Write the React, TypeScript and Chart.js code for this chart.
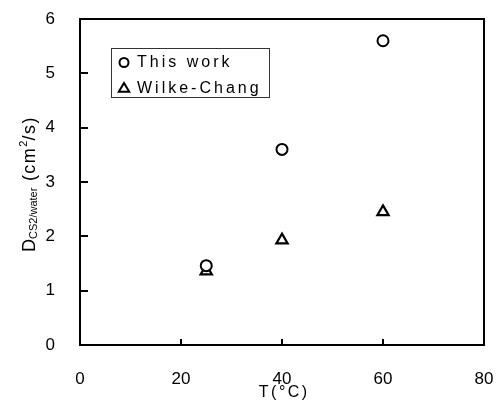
import React, { useEffect, useRef } from 'react';
import { Chart, registerables } from 'chart.js';

Chart.register(...registerables);

// ---- data ----
const temperatures = [25, 40, 60];
const thisWork = [1.46, 3.6, 5.6];
const wilkeChang = [1.36, 1.93, 2.45];
const seriesLabels = ['This work', 'Wilke-Chang'];
const xTickValues = [20, 40, 60];
const yTickValues = [1, 2, 3, 4, 5];
const xTitle = 'T(°C)';
const yTitleMain = 'D';
const yTitleSub = 'CS2/water';
const yTitleUnitA = '(cm';
const yTitleSup = '2';
const yTitleUnitB = '/s)';

const FONT = '"Liberation Sans", Arial, Helvetica, sans-serif';

function drawCircle(ctx: CanvasRenderingContext2D, x: number, y: number, r: number, lw: number) {
  ctx.save();
  ctx.beginPath();
  ctx.arc(x, y, r, 0, Math.PI * 2);
  ctx.fillStyle = '#fff';
  ctx.fill();
  ctx.lineWidth = lw;
  ctx.strokeStyle = '#000';
  ctx.stroke();
  ctx.restore();
}

function drawTriangle(ctx: CanvasRenderingContext2D, x: number, y: number, r: number, lw: number) {
  ctx.save();
  ctx.beginPath();
  ctx.moveTo(x, y - r);
  ctx.lineTo(x + r * 0.95, y + r * 0.6);
  ctx.lineTo(x - r * 0.95, y + r * 0.6);
  ctx.closePath();
  ctx.fillStyle = '#fff';
  ctx.fill();
  ctx.lineWidth = lw;
  ctx.lineJoin = 'miter';
  ctx.strokeStyle = '#000';
  ctx.stroke();
  ctx.restore();
}

const framePlugin = {
  id: 'framePlugin',
  afterDraw(chart: any) {
    const { ctx, chartArea, scales } = chart;
    const { left, right, top, bottom } = chartArea;
    ctx.save();
    // frame
    ctx.strokeStyle = '#000';
    ctx.lineWidth = 2;
    ctx.strokeRect(left, top, right - left, bottom - top);
    // inward ticks
    ctx.beginPath();
    xTickValues.forEach((v) => {
      const px = Math.round(scales.x.getPixelForValue(v));
      ctx.moveTo(px, bottom);
      ctx.lineTo(px, bottom - 6);
    });
    yTickValues.forEach((v) => {
      const py = Math.round(scales.y.getPixelForValue(v));
      ctx.moveTo(left, py);
      ctx.lineTo(left + 8, py);
    });
    ctx.stroke();

    // legend box
    const lx = 111.5, ly = 48.5, lw = 158, lh = 49;
    ctx.lineWidth = 1;
    ctx.strokeStyle = '#333';
    ctx.strokeRect(lx, ly, lw, lh);
    drawCircle(ctx, 124, 62.5, 4.5, 2);
    drawTriangle(ctx, 124, 88.5, 5.5, 2);
    ctx.fillStyle = '#000';
    ctx.font = `16px ${FONT}`;
    (ctx as any).letterSpacing = '3px';
    ctx.textBaseline = 'middle';
    ctx.textAlign = 'left';
    ctx.fillText(seriesLabels[0], 137, 62.5);
    ctx.fillText(seriesLabels[1], 137, 88.5);

    // x title
    ctx.font = `16px ${FONT}`;
    (ctx as any).letterSpacing = '2.5px';
    ctx.textAlign = 'left';
    ctx.textBaseline = 'alphabetic';
    const xw = ctx.measureText(xTitle).width;
    ctx.fillText(xTitle, 283 - xw / 2 + 1.25, 397);

    // y title (rotated)
    const parts = [
      { t: yTitleMain, size: 18, dy: 0, sp: 0 },
      { t: yTitleSub, size: 11, dy: 2, sp: 0 },
      { t: ' ' + yTitleUnitA, size: 18, dy: 0, sp: 1.5 },
      { t: yTitleSup, size: 11, dy: -8, sp: 0 },
      { t: yTitleUnitB, size: 18, dy: 0, sp: 1.5 },
    ];
    let total = 0;
    const widths: number[] = [];
    parts.forEach((p) => {
      ctx.font = `${p.size}px ${FONT}`;
      (ctx as any).letterSpacing = `${p.sp}px`;
      const w = ctx.measureText(p.t).width;
      widths.push(w);
      total += w;
    });
    ctx.translate(35, 184);
    ctx.rotate(-Math.PI / 2);
    let u = -total / 2;
    parts.forEach((p, i) => {
      ctx.font = `${p.size}px ${FONT}`;
      (ctx as any).letterSpacing = `${p.sp}px`;
      ctx.fillText(p.t, u, p.dy);
      u += widths[i];
    });
    (ctx as any).letterSpacing = '0px';
    ctx.restore();
  },
};

export default function App() {
  const canvasRef = useRef<HTMLCanvasElement | null>(null);

  useEffect(() => {
    const canvas = canvasRef.current;
    if (!canvas) return;
    const chart = new Chart(canvas, {
      type: 'scatter',
      data: {
        datasets: [
          {
            label: seriesLabels[0],
            data: temperatures.map((t, i) => ({ x: t, y: thisWork[i] })),
            pointStyle: 'circle',
            pointRadius: 5.5,
            pointBorderWidth: 2,
            pointBackgroundColor: '#fff',
            pointBorderColor: '#000',
            showLine: false,
          },
          {
            label: seriesLabels[1],
            data: temperatures.map((t, i) => ({ x: t, y: wilkeChang[i] })),
            pointStyle: 'triangle',
            pointRadius: 6.5,
            pointBorderWidth: 2.2,
            pointBackgroundColor: 'rgba(255,255,255,0)',
            pointBorderColor: '#000',
            showLine: false,
          },
        ],
      },
      options: {
        responsive: false,
        animation: false,
        devicePixelRatio: 1,
        layout: { padding: { top: 19, right: 12, left: 0, bottom: 0 } },
        plugins: {
          legend: { display: false },
          tooltip: { enabled: false },
          title: { display: false },
        },
        scales: {
          x: {
            type: 'linear',
            min: 0,
            max: 80,
            grid: { display: false },
            border: { display: false },
            ticks: {
              stepSize: 20,
              padding: 16,
              color: '#000',
              font: { size: 17, family: FONT },
              maxRotation: 0,
            },
            afterFit: (scale: any) => {
              scale.height = 56;
              scale.paddingLeft = 0;
              scale.paddingRight = 0;
            },
          },
          y: {
            type: 'linear',
            min: 0,
            max: 6,
            grid: { display: false },
            border: { display: false },
            ticks: {
              stepSize: 1,
              padding: 17,
              color: '#000',
              font: { size: 17, family: FONT },
            },
            afterFit: (scale: any) => {
              scale.width = 80;
              scale.paddingTop = 0;
              scale.paddingBottom = 0;
            },
          },
        },
      },
      plugins: [framePlugin],
    });
    return () => chart.destroy();
  }, []);

  return (
    <div style={{ position: 'fixed', left: 0, top: 0, width: 496, height: 401, background: '#fff' }}>
      <canvas ref={canvasRef} width={496} height={401} />
    </div>
  );
}
